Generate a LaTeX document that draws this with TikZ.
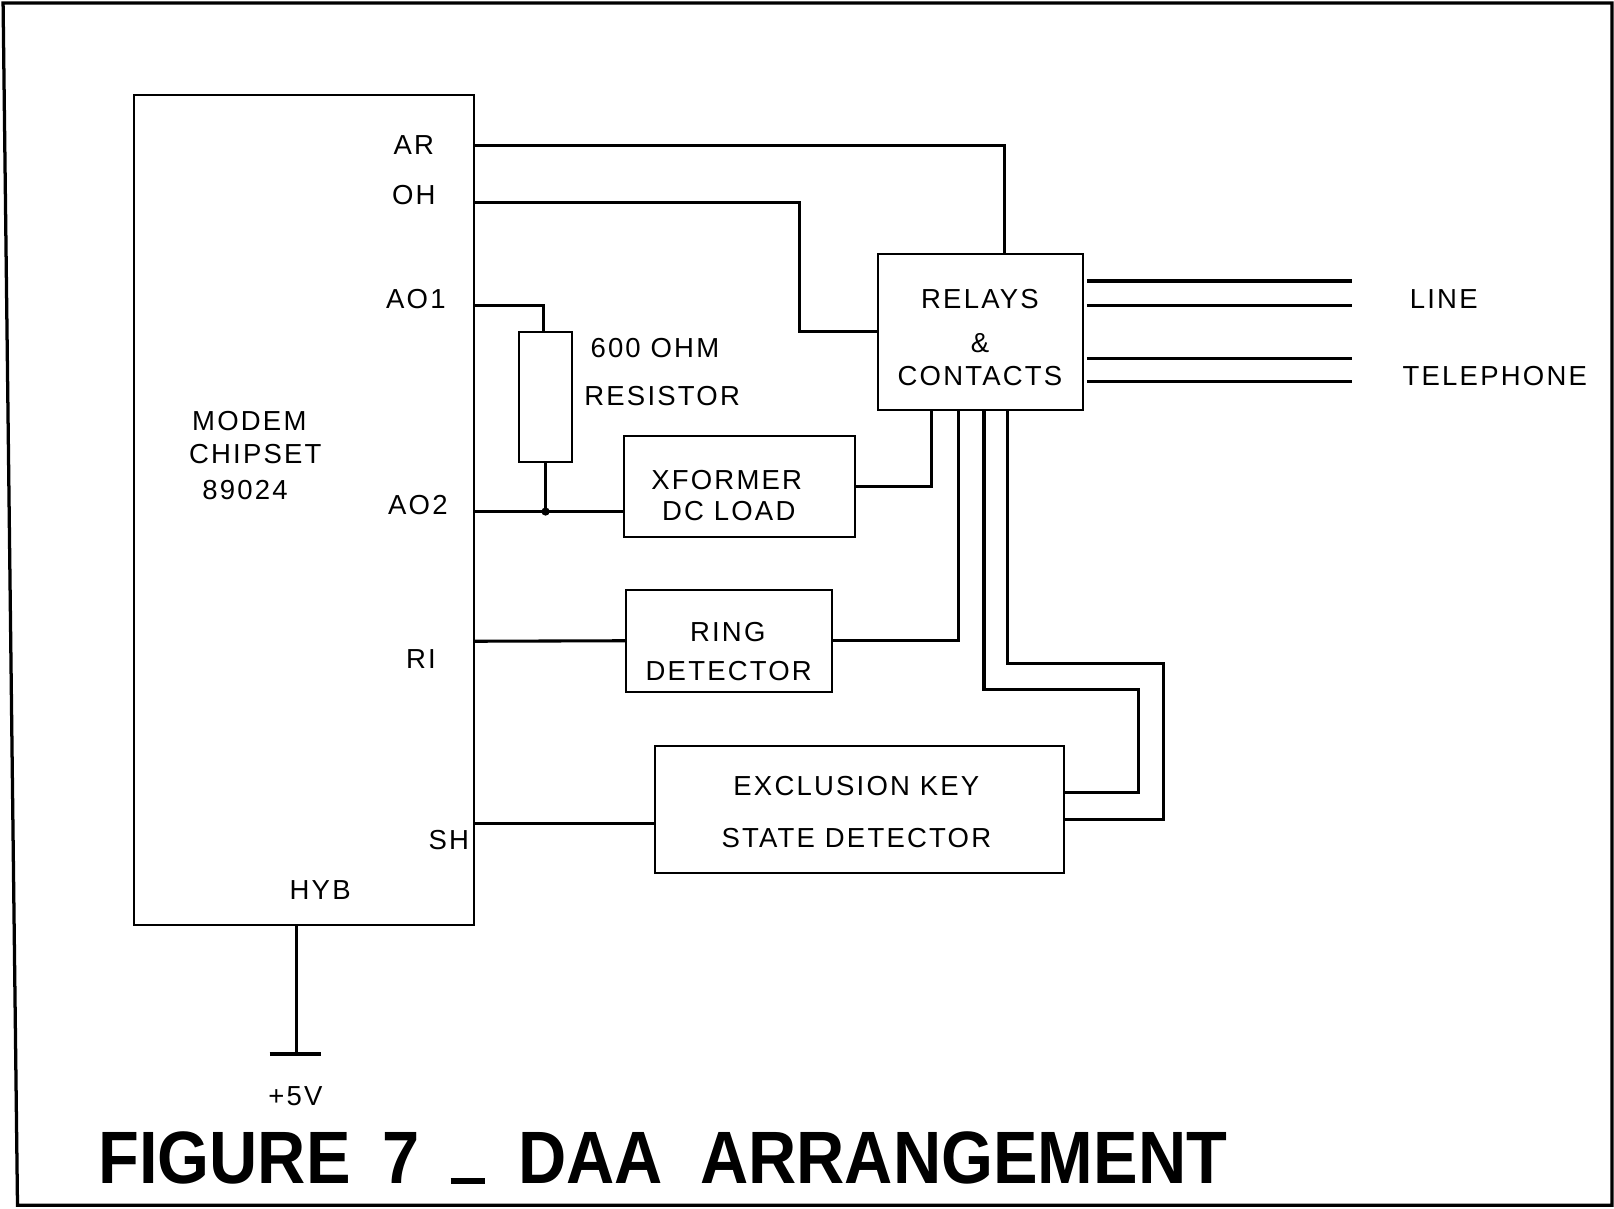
\documentclass[tikz,border=0pt]{standalone}
\usepackage{fontspec}
\setmainfont{Liberation Sans}
\newfontfamily\lblfont[LetterSpace=8]{Liberation Sans}
\usetikzlibrary{calc}
\tikzset{
  blk/.style={draw, line width=0.55pt, inner sep=0pt, rectangle},
  wire/.style={line width=0.85pt},
  lbl/.style={font=\lblfont\fontsize{7.6}{9}\selectfont, inner sep=0pt},
  ttl/.style={font=\bfseries\fontsize{20.5}{24}\selectfont, inner sep=0pt, xscale=0.9}
}
\begin{document}
\begin{tikzpicture}[x=0.01cm, y=-0.01cm]
\useasboundingbox (0,0) rectangle (1568,1174);
% page frame
\draw[line width=0.9pt] (3,3) -- (1566,3) -- (1566,1171) -- (17,1171) -- cycle;

% blocks
\node[blk, minimum width=3.30cm, minimum height=8.05cm] (modem) at (295,495.5) {};
\node[blk, minimum width=1.99cm, minimum height=1.51cm] (relays) at (952.5,322.5) {};
\node[blk, minimum width=0.52cm, minimum height=1.26cm] (res) at (530,386) {};
\node[blk, minimum width=2.25cm, minimum height=0.98cm] (xf) at (718.5,473) {};
\node[blk, minimum width=2.00cm, minimum height=0.99cm] (ring) at (708,622.5) {};
\node[blk, minimum width=3.98cm, minimum height=1.23cm] (excl) at (835,786.5) {};

% modem texts
\node[lbl, anchor=base west] (tmodem) at (186,418) {MODEM};
\node[lbl, anchor=base west] (tchip) at (183,450) {CHIPSET};
\node[lbl, anchor=base west] (tnum) at (196,485) {89024};
\node[lbl, anchor=base] (tar) at (402,150) {AR};
\node[lbl, anchor=base] (toh) at (402,199) {OH};
\node[lbl, anchor=base] (tao1) at (404,300) {AO1};
\node[lbl, anchor=base] (tao2) at (406,500) {AO2};
\node[lbl, anchor=base] (tri) at (409,649) {RI};
\node[lbl, anchor=base] (tsh) at (436,825) {SH};
\node[lbl, anchor=base] (thyb) at (311,874) {HYB};

% other texts
\node[lbl, anchor=base west] (t600) at (573,347) {600 OHM};
\node[lbl, anchor=base west] (tresis) at (567,394) {RESISTOR};
\node[lbl, anchor=base] (trel) at (952,300) {RELAYS};
\node[lbl, anchor=base] (tamp) at (952,342) {\&};
\node[lbl, anchor=base] (tcon) at (952,375) {CONTACTS};
\node[lbl, anchor=base west] (tline) at (1369,300) {LINE};
\node[lbl, anchor=base west] (ttel) at (1362,375) {TELEPHONE};
\node[lbl, anchor=base] (txf) at (706,476) {XFORMER};
\node[lbl, anchor=base] (tdc) at (708,506) {DC LOAD};
\node[lbl, anchor=base] (tring) at (707,623) {RING};
\node[lbl, anchor=base] (tdet) at (708,661) {DETECTOR};
\node[lbl, anchor=base] (tex) at (832,773) {EXCLUSION KEY};
\node[lbl, anchor=base] (tst) at (832,823) {STATE DETECTOR};
\node[lbl, anchor=base] (t5v) at (287,1074) {+5V};
\node[ttl, anchor=base west] (title) at (95,1150) {FIGURE\hspace{0.48em}7\hspace{0.46em}\rule{0.37cm}{0.06cm}\hspace{0.5em}DAA\hspace{0.56em}ARRANGEMENT};

% pins on modem edge
\coordinate (pAR) at (460,141);
\coordinate (pOH) at (460,197);
\coordinate (pAO1) at (460,297);
\coordinate (pAO2) at (460,497);
\coordinate (pRI) at (460,623);
\coordinate (pSH) at (460,800);
\coordinate (pHYB) at (288,898);
\coordinate (v5) at (288,1024);
\coordinate (jn) at (530,497);
\coordinate (ex1) at (1034,770);
\coordinate (ex2) at (1034,796);

% connectors
\draw[wire] (pAR) -| ($(relays.north west)+(124,0)$);
\draw[wire] (pOH) -| (777,322.5) -- (relays.west);
\draw[wire] (pAO1) -| ($(res.north)+(-2,0)$);
\draw[wire] (res.south) -- (jn);
\fill (jn) circle (4);
\draw[wire] (pAO2) -- (pAO2 -| xf.west);
\draw[wire] (xf.east) -| ($(relays.south west)+(53,0)$);
\draw[wire] (pRI) -- (ring.west);
\draw[wire] (ring.east) -| ($(relays.south west)+(79,0)$);
\draw[wire] ($(relays.south west)+(104,0)$) |- (1106,670) |- (ex1);
\draw[wire] ($(relays.south west)+(127,0)$) |- (1130,645) |- (ex2);
\draw[wire] (pSH) -- (pSH -| excl.west);
\draw[wire] (pHYB) -- (v5);
\draw[wire] ($(v5)+(-26,0)$) -- ($(v5)+(24,0)$);

% line / telephone pairs
\coordinate (la1) at (1056,273); \coordinate (lb1) at (1313,273);
\coordinate (la2) at (1056,297); \coordinate (lb2) at (1313,297);
\coordinate (ta1) at (1056,348); \coordinate (tb1) at (1313,348);
\coordinate (ta2) at (1056,371); \coordinate (tb2) at (1313,371);
\draw[wire] (la1) -- (lb1);
\draw[wire] (la2) -- (lb2);
\draw[wire] (ta1) -- (tb1);
\draw[wire] (ta2) -- (tb2);
\end{tikzpicture}
\end{document}
